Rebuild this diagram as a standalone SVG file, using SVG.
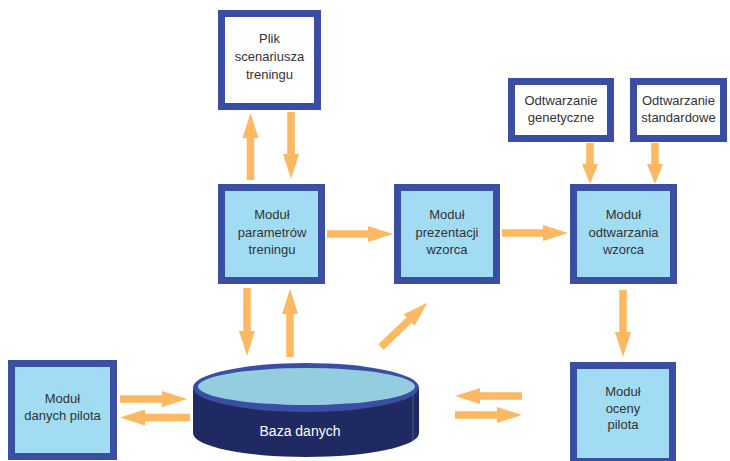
<svg xmlns="http://www.w3.org/2000/svg" width="730" height="461" viewBox="0 0 730 461">
  <style>
    .box { stroke: #3a4fa3; stroke-width: 7; }
    .mod { fill: #a2dcf2; }
    .src { fill: #ffffff; }
    .lbl { font-family: "Liberation Sans", Arial, sans-serif; font-size: 13px; fill: #333333; text-anchor: middle; }
    .arrow { fill: #fdb862; }
  </style>
  <rect width="730" height="461" fill="#ffffff"/>

  <!-- connectors -->
  <g id="connectors">
    <path class="arrow" d="M0,-3.75H42V-8L67,0L42,8V3.75H0Z" transform="translate(250.5,180) rotate(-90)"/>
    <path class="arrow" d="M0,-3.75H42V-8L67,0L42,8V3.75H0Z" transform="translate(291,112) rotate(90)"/>
    <path class="arrow" d="M0,-3.75H41V-8L66,0L41,8V3.75H0Z" transform="translate(327,234)"/>
    <path class="arrow" d="M0,-3.75H41V-8L66,0L41,8V3.75H0Z" transform="translate(502,233)"/>
    <path class="arrow" d="M0,-3.75H21V-8L41,0L21,8V3.75H0Z" transform="translate(590,143) rotate(90)"/>
    <path class="arrow" d="M0,-3.75H21V-8L41,0L21,8V3.75H0Z" transform="translate(655,143) rotate(90)"/>
    <path class="arrow" d="M0,-3.75H42V-8L67,0L42,8V3.75H0Z" transform="translate(623,290) rotate(90)"/>
    <path class="arrow" d="M0,-3.75H43V-8L68,0L43,8V3.75H0Z" transform="translate(247,288) rotate(90)"/>
    <path class="arrow" d="M0,-3.75H43V-8L68,0L43,8V3.75H0Z" transform="translate(290,357) rotate(-90)"/>
    <path class="arrow" d="M0,-3.75H39V-8L64,0L39,8V3.75H0Z" transform="translate(381,347) rotate(-43.7)"/>
    <path class="arrow" d="M0,-3.75H42V-8L67,0L42,8V3.75H0Z" transform="translate(120,399)"/>
    <path class="arrow" d="M0,-3.75H45V-8L70,0L45,8V3.75H0Z" transform="translate(190,417.5) rotate(180)"/>
    <path class="arrow" d="M0,-3.75H42V-8L67,0L42,8V3.75H0Z" transform="translate(522,396) rotate(180)"/>
    <path class="arrow" d="M0,-3.75H42V-8L67,0L42,8V3.75H0Z" transform="translate(455,415)"/>
  </g>

  <g id="plik">
    <rect class="box src" x="221.5" y="13.5" width="96" height="93"/>
    <text class="lbl" x="269.5" y="43">Plik</text>
    <text class="lbl" x="269.5" y="61">scenariusza</text>
    <text class="lbl" x="269.5" y="79">treningu</text>
  </g>

  <g id="parametry">
    <rect class="box mod" x="221.5" y="187.5" width="100" height="93"/>
    <text class="lbl" x="272" y="219">Moduł</text>
    <text class="lbl" x="272" y="236.5">parametrów</text>
    <text class="lbl" x="272" y="254">treningu</text>
  </g>

  <g id="prezentacja">
    <rect class="box mod" x="397.5" y="187.5" width="99" height="93"/>
    <text class="lbl" x="447" y="219">Moduł</text>
    <text class="lbl" x="447" y="236.5">prezentacji</text>
    <text class="lbl" x="447" y="254">wzorca</text>
  </g>

  <g id="odtwarzanie">
    <rect class="box mod" x="573.5" y="187.5" width="100" height="93"/>
    <text class="lbl" x="623.5" y="219">Moduł</text>
    <text class="lbl" x="623.5" y="236.5">odtwarzania</text>
    <text class="lbl" x="623.5" y="254">wzorca</text>
  </g>

  <g id="genetyczne">
    <rect class="box src" x="511.5" y="81.5" width="99" height="57"/>
    <text class="lbl" x="561" y="105">Odtwarzanie</text>
    <text class="lbl" x="561" y="122">genetyczne</text>
  </g>

  <g id="standardowe">
    <rect class="box src" x="633.5" y="81.5" width="90" height="57"/>
    <text class="lbl" x="678.5" y="105">Odtwarzanie</text>
    <text class="lbl" x="678.5" y="122">standardowe</text>
  </g>

  <g id="dane-pilota">
    <rect class="box mod" x="11.5" y="363.5" width="102" height="93"/>
    <text class="lbl" x="62.5" y="403">Moduł</text>
    <text class="lbl" x="62.5" y="420">danych pilota</text>
  </g>

  <g id="ocena-pilota">
    <rect class="box mod" x="573.5" y="365.5" width="99" height="96"/>
    <text class="lbl" x="623" y="396">Moduł</text>
    <text class="lbl" x="623" y="412.5">oceny</text>
    <text class="lbl" x="623" y="429">pilota</text>
  </g>

  <g id="baza-danych">
    <path d="M193,387V433A113,24 0 0 0 419,433V387Z" fill="#1f2a62"/>
    <line x1="413" y1="392" x2="413" y2="440" stroke="#5d6a9a" stroke-width="0.8"/>
    <ellipse cx="306" cy="387.5" rx="113" ry="24.5" fill="#3a4fa3"/>
    <ellipse cx="306.5" cy="386.5" rx="108.5" ry="18.5" fill="#94cce0"/>
    <text x="300" y="436" font-family="Liberation Sans, Arial, sans-serif" font-size="14" fill="#ffffff" text-anchor="middle">Baza danych</text>
  </g>
</svg>
